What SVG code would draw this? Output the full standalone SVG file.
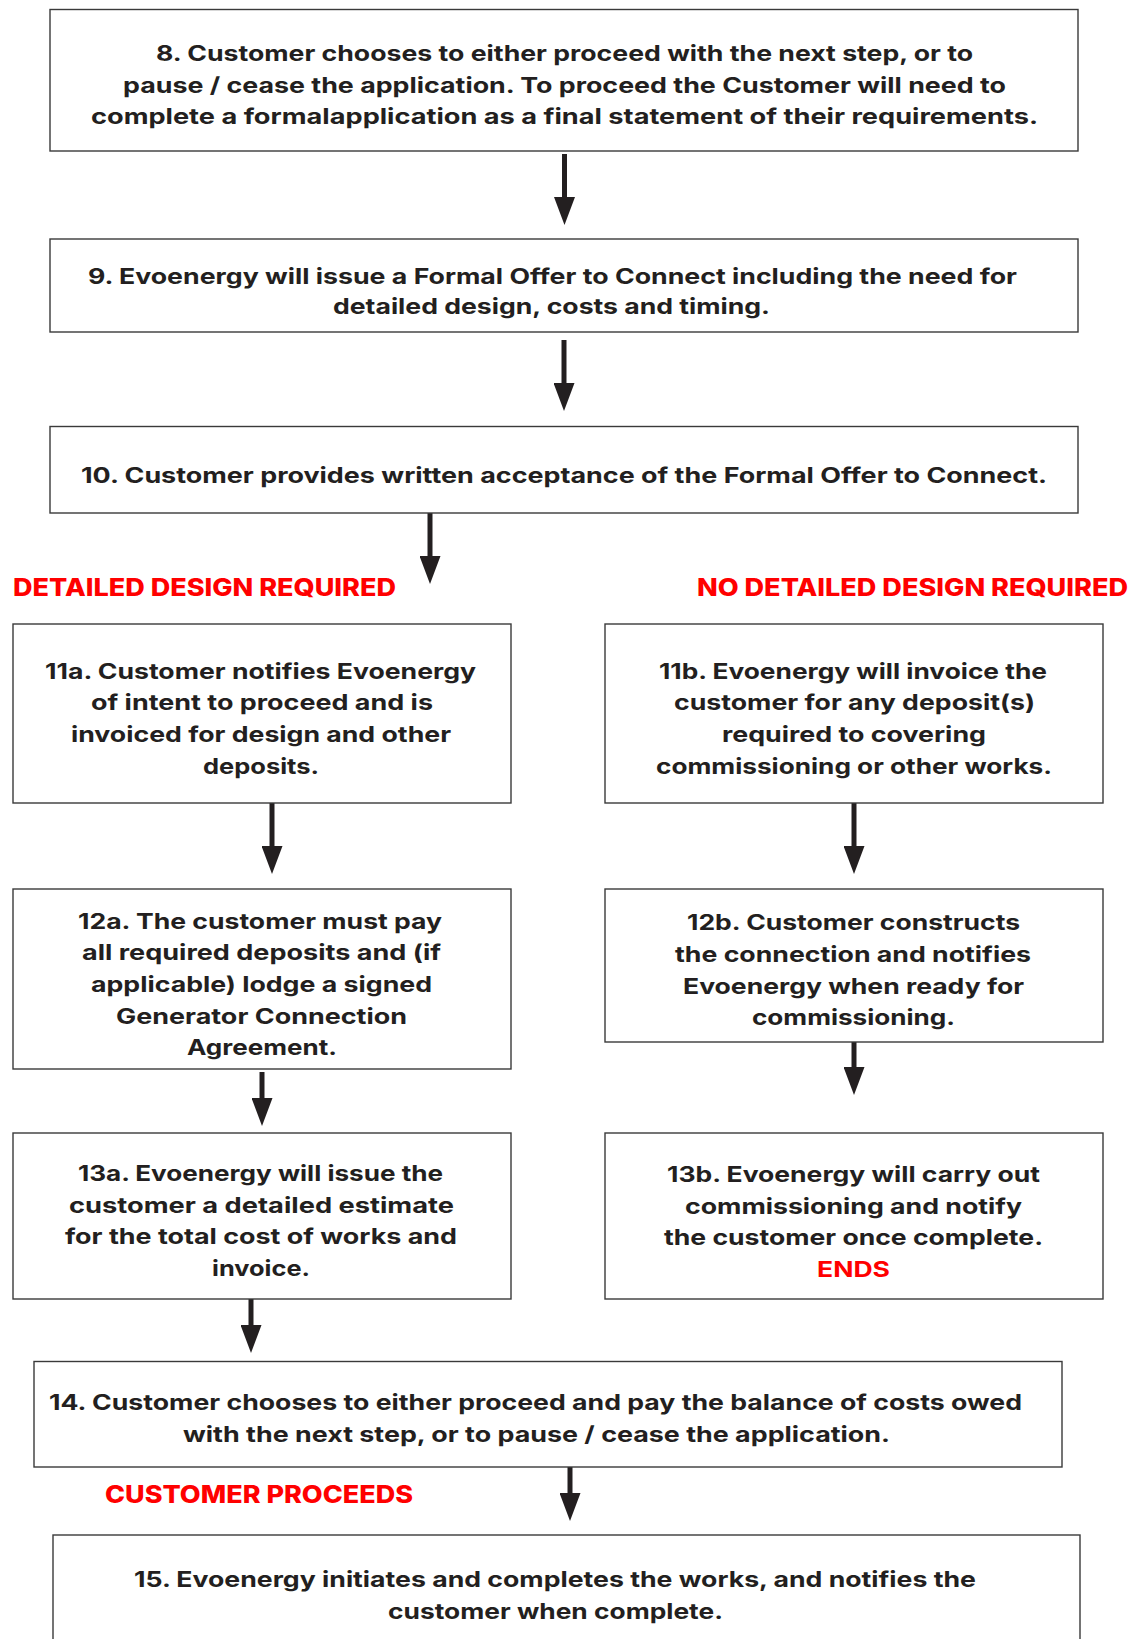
<svg xmlns="http://www.w3.org/2000/svg" width="1137" height="1639" viewBox="0 0 1137 1639">
<style>
  .box { fill: #ffffff; stroke: #3a3a3a; stroke-width: 1.4; }
  .t { font-family: "Inter", "Liberation Sans", sans-serif; font-weight: 700; font-size: 21.5px; fill: #231f20; text-anchor: middle; }
  .red { font-family: "Inter", "Liberation Sans", sans-serif; font-weight: 800; font-size: 24px; fill: #ff0000; }
  .conn { stroke: #231f20; stroke-width: 5; fill: none; marker-end: url(#head); }
</style>
<defs>
  <marker id="head" viewBox="0 0 28 21" markerWidth="28" markerHeight="21" refX="0" refY="10.5" orient="auto" markerUnits="userSpaceOnUse">
    <path d="M0,0 L28,10.5 L0,21 Z" fill="#231f20"/>
  </marker>
</defs>
<rect width="1137" height="1639" fill="#ffffff"/>

<g id="connectors">
  <line class="conn" x1="564.5" y1="154" x2="564.5" y2="197"/>
  <line class="conn" x1="564" y1="340" x2="564" y2="383"/>
  <line class="conn" x1="430" y1="513" x2="430" y2="556"/>
  <line class="conn" x1="272" y1="803" x2="272" y2="846"/>
  <line class="conn" x1="854" y1="803" x2="854" y2="846"/>
  <line class="conn" x1="262" y1="1072" x2="262" y2="1098"/>
  <line class="conn" x1="854" y1="1042" x2="854" y2="1067"/>
  <line class="conn" x1="251" y1="1299" x2="251" y2="1325"/>
  <line class="conn" x1="570" y1="1467" x2="570" y2="1493"/>
</g>

<g id="labels">
  <text class="red" x="13" y="596" textLength="383" lengthAdjust="spacingAndGlyphs">DETAILED DESIGN REQUIRED</text>
  <text class="red" x="697" y="596" textLength="431" lengthAdjust="spacingAndGlyphs">NO DETAILED DESIGN REQUIRED</text>
  <text class="red" x="105" y="1503" textLength="308" lengthAdjust="spacingAndGlyphs">CUSTOMER PROCEEDS</text>
</g>

<g id="node8">
  <rect class="box" x="50" y="9.5" width="1028" height="141.5"/>
  <text class="t" x="564.5" y="61" textLength="817" lengthAdjust="spacingAndGlyphs">8. Customer chooses to either proceed with the next step, or to</text>
  <text class="t" x="564.5" y="92.5" textLength="883" lengthAdjust="spacingAndGlyphs">pause / cease the application. To proceed the Customer will need to</text>
  <text class="t" x="564.5" y="124" textLength="947" lengthAdjust="spacingAndGlyphs">complete a formalapplication as a final statement of their requirements.</text>
</g>

<g id="node9">
  <rect class="box" x="50" y="239" width="1028" height="93"/>
  <text class="t" x="552.5" y="283.5" textLength="929" lengthAdjust="spacingAndGlyphs">9. Evoenergy will issue a Formal Offer to Connect including the need for</text>
  <text class="t" x="551.5" y="314" textLength="437" lengthAdjust="spacingAndGlyphs">detailed design, costs and timing.</text>
</g>

<g id="node10">
  <rect class="box" x="50" y="426.5" width="1028" height="86.5"/>
  <text class="t" x="564" y="483" textLength="966" lengthAdjust="spacingAndGlyphs">10. Customer provides written acceptance of the Formal Offer to Connect.</text>
</g>

<g id="node11a">
  <rect class="box" x="13" y="624" width="498" height="179"/>
  <text class="t" x="260.5" y="679" textLength="431" lengthAdjust="spacingAndGlyphs">11a. Customer notifies Evoenergy</text>
  <text class="t" x="262" y="710" textLength="342" lengthAdjust="spacingAndGlyphs">of intent to proceed and is</text>
  <text class="t" x="261" y="742" textLength="380" lengthAdjust="spacingAndGlyphs">invoiced for design and other</text>
  <text class="t" x="261" y="774" textLength="116" lengthAdjust="spacingAndGlyphs">deposits.</text>
</g>

<g id="node11b">
  <rect class="box" x="605" y="624" width="498" height="179"/>
  <text class="t" x="853" y="679" textLength="388" lengthAdjust="spacingAndGlyphs">11b. Evoenergy will invoice the</text>
  <text class="t" x="854.5" y="710" textLength="361" lengthAdjust="spacingAndGlyphs">customer for any deposit(s)</text>
  <text class="t" x="854" y="742" textLength="264" lengthAdjust="spacingAndGlyphs">required to covering</text>
  <text class="t" x="854" y="774" textLength="396" lengthAdjust="spacingAndGlyphs">commissioning or other works.</text>
</g>

<g id="node12a">
  <rect class="box" x="13" y="889" width="498" height="180"/>
  <text class="t" x="260" y="929" textLength="364" lengthAdjust="spacingAndGlyphs">12a. The customer must pay</text>
  <text class="t" x="261.5" y="960" textLength="359" lengthAdjust="spacingAndGlyphs">all required deposits and (if</text>
  <text class="t" x="261.5" y="992" textLength="341" lengthAdjust="spacingAndGlyphs">applicable) lodge a signed</text>
  <text class="t" x="261.5" y="1024" textLength="291" lengthAdjust="spacingAndGlyphs">Generator Connection</text>
  <text class="t" x="262" y="1055" textLength="150" lengthAdjust="spacingAndGlyphs">Agreement.</text>
</g>

<g id="node12b">
  <rect class="box" x="605" y="889" width="498" height="153"/>
  <text class="t" x="853.5" y="930" textLength="333" lengthAdjust="spacingAndGlyphs">12b. Customer constructs</text>
  <text class="t" x="853" y="962" textLength="356" lengthAdjust="spacingAndGlyphs">the connection and notifies</text>
  <text class="t" x="853.5" y="994" textLength="341" lengthAdjust="spacingAndGlyphs">Evoenergy when ready for</text>
  <text class="t" x="853.5" y="1025" textLength="203" lengthAdjust="spacingAndGlyphs">commissioning.</text>
</g>

<g id="node13a">
  <rect class="box" x="13" y="1133" width="498" height="166"/>
  <text class="t" x="260.5" y="1181" textLength="365" lengthAdjust="spacingAndGlyphs">13a. Evoenergy will issue the</text>
  <text class="t" x="261.5" y="1213" textLength="385" lengthAdjust="spacingAndGlyphs">customer a detailed estimate</text>
  <text class="t" x="261" y="1244" textLength="392" lengthAdjust="spacingAndGlyphs">for the total cost of works and</text>
  <text class="t" x="261" y="1276" textLength="98" lengthAdjust="spacingAndGlyphs">invoice.</text>
</g>

<g id="node13b">
  <rect class="box" x="605" y="1133" width="498" height="166"/>
  <text class="t" x="853.5" y="1182" textLength="373" lengthAdjust="spacingAndGlyphs">13b. Evoenergy will carry out</text>
  <text class="t" x="853.5" y="1214" textLength="337" lengthAdjust="spacingAndGlyphs">commissioning and notify</text>
  <text class="t" x="853.5" y="1245" textLength="379" lengthAdjust="spacingAndGlyphs">the customer once complete.</text>
  <text class="t" x="853.5" y="1277" textLength="73" lengthAdjust="spacingAndGlyphs" style="fill:#ff0000">ENDS</text>
</g>

<g id="node14">
  <rect class="box" x="34" y="1361.5" width="1028" height="105.5"/>
  <text class="t" x="535.5" y="1410" textLength="973" lengthAdjust="spacingAndGlyphs">14. Customer chooses to either proceed and pay the balance of costs owed</text>
  <text class="t" x="536.5" y="1442" textLength="707" lengthAdjust="spacingAndGlyphs">with the next step, or to pause / cease the application.</text>
</g>

<g id="node15">
  <rect class="box" x="53" y="1535" width="1027" height="200"/>
  <text class="t" x="555" y="1587" textLength="842" lengthAdjust="spacingAndGlyphs">15. Evoenergy initiates and completes the works, and notifies the</text>
  <text class="t" x="555.5" y="1619" textLength="335" lengthAdjust="spacingAndGlyphs">customer when complete.</text>
</g>
</svg>
